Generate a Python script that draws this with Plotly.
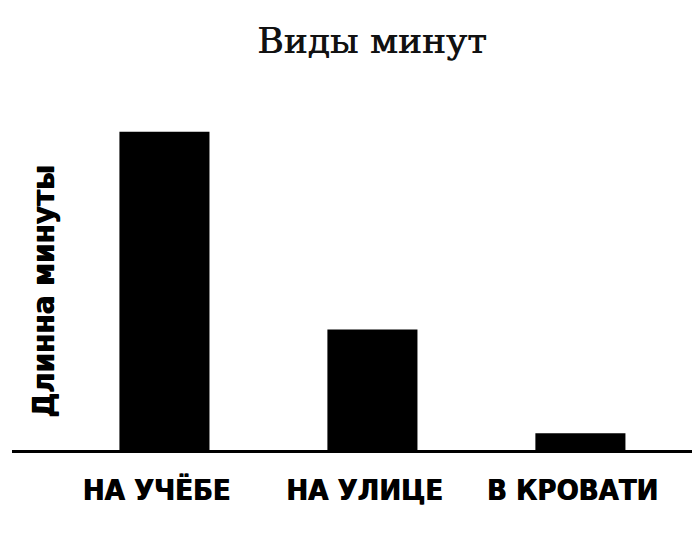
import plotly.graph_objects as go

# data
categories = ['НА УЧЁБЕ', 'НА УЛИЦЕ', 'В КРОВАТИ']
minute_length = [9.5, 3.6, 0.5]

title_text = 'Виды минут'
y_label = 'Длинна минуты'

narrow = 'Liberation Sans Narrow, DejaVu Sans Condensed, Arial Narrow, sans-serif'

# the page body has an 8px margin, so the figure is drawn 8px smaller
W, H = 692, 536

fig = go.Figure()
fig.add_trace(go.Bar(
    x=categories,
    y=minute_length,
    marker=dict(color='black', line=dict(width=0)),
    width=0.433,
    hoverinfo='skip',
))

fig.update_layout(
    width=W,
    height=H,
    paper_bgcolor='white',
    plot_bgcolor='white',
    margin=dict(l=4, r=0, t=107, b=94),
    showlegend=False,
    title=dict(
        text=title_text,
        x=364 / W,
        xref='container',
        xanchor='center',
        y=1 - 32 / H,
        yref='container',
        yanchor='middle',
        font=dict(family='DejaVu Serif, Liberation Serif, serif', size=36, color='#111',
                  shadow='0.6px 0 0 #111'),
    ),
)

fig.update_xaxes(
    type='category',
    range=[-0.733, 2.575],
    showline=True,
    linecolor='black',
    linewidth=2.5,
    showgrid=False,
    zeroline=False,
    ticks='',
    ticklabelshift=-8,
    ticklabelstandoff=12,
    tickfont=dict(family=narrow, size=29, color='black', weight='bold',
                  shadow='0.8px 0 0 black'),
)
fig.update_yaxes(
    range=[0, 10],
    visible=False,
    showgrid=False,
    zeroline=False,
)

fig.add_annotation(
    text=y_label,
    xref='paper', yref='paper',
    x=(43 - 12) / 688, y=(450 - 292) / 335,
    xanchor='center', yanchor='middle',
    textangle=-90,
    showarrow=False,
    font=dict(family=narrow, size=31, color='black', weight='bold',
              shadow='0.8px 0 0 black'),
)

fig.write_html('out.html')
